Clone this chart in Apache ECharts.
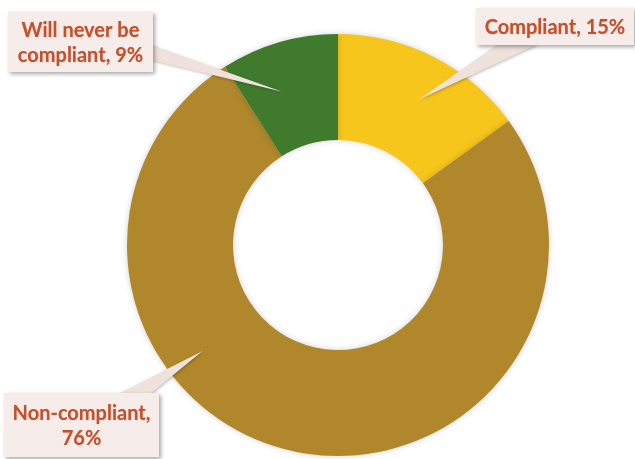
<!DOCTYPE html>
<html><head><meta charset="utf-8">
<script src="https://cdn.jsdelivr.net/npm/echarts@6/dist/echarts.min.js"></script>
<style>html,body{margin:0;padding:0;background:#fff}#c{width:635px;height:459px}</style>
</head><body><div id="c"></div>
<script>
const categories = ['Compliant', 'Non-compliant', 'Will never be compliant'];
const values = [15, 76, 9];
const colors = ['#f7c61c', '#b0872a', '#3f7a2d'];
const labelTexts = ['Compliant, 15%', 'Non-compliant,\n76%', 'Will never be\ncompliant, 9%'];

const chart = echarts.init(document.getElementById('c'), null, {renderer: 'canvas'});
const cx = 338, cy = 245, r0 = 105, r1 = 211;
function pt(angDeg, r) { const a = angDeg * Math.PI / 180; return [cx + r * Math.sin(a), cy - r * Math.cos(a)]; }

// callout boxes and pointer wedges (annotation styling)
const callouts = [
  {box: [476, 8, 158, 37], base: [[498, 44], [538, 44]], tip: pt(29, 166)},
  {box: [4, 393, 155, 64], base: [[118, 394], [150, 394]], tip: pt(232, 172)},
  {box: [8, 12, 145, 60], base: [[151, 45], [151, 60]], tip: pt(340, 163)}
];
const graphics = [];
callouts.forEach((c, i) => {
  graphics.push({
    type: 'polygon', z: 10,
    shape: {points: [c.base[0], c.tip, c.base[1]]},
    style: {fill: '#efe2dc', shadowBlur: 3, shadowColor: 'rgba(0,0,0,0.25)', shadowOffsetX: 1, shadowOffsetY: 1}
  });
});
callouts.forEach((c, i) => {
  graphics.push({
    type: 'rect', z: 11,
    shape: {x: c.box[0], y: c.box[1], width: c.box[2], height: c.box[3]},
    style: {fill: '#f6ecea', shadowBlur: 4, shadowColor: 'rgba(0,0,0,0.35)', shadowOffsetX: 2, shadowOffsetY: 2}
  });
  graphics.push({
    type: 'text', z: 12,
    x: c.box[0] + c.box[2] / 2, y: c.box[1] + c.box[3] / 2 + 1,
    style: {text: labelTexts[i], fill: '#c4502c', font: 'bold 20px Lato', align: 'center', verticalAlign: 'middle', lineHeight: 25,
      textShadowBlur: 1, textShadowColor: 'rgba(196,80,44,0.4)'}
  });
});

chart.setOption({
  animation: false,
  backgroundColor: '#fff',
  series: [{
    type: 'pie',
    center: [cx, cy],
    radius: [r0, r1],
    startAngle: 90,
    clockwise: true,
    label: {show: false},
    labelLine: {show: false},
    itemStyle: {shadowBlur: 6, shadowColor: 'rgba(0,0,0,0.18)'},
    data: categories.map((n, i) => ({name: n, value: values[i], itemStyle: {color: colors[i]}}))
  }],
  graphic: graphics
});
</script></body></html>
